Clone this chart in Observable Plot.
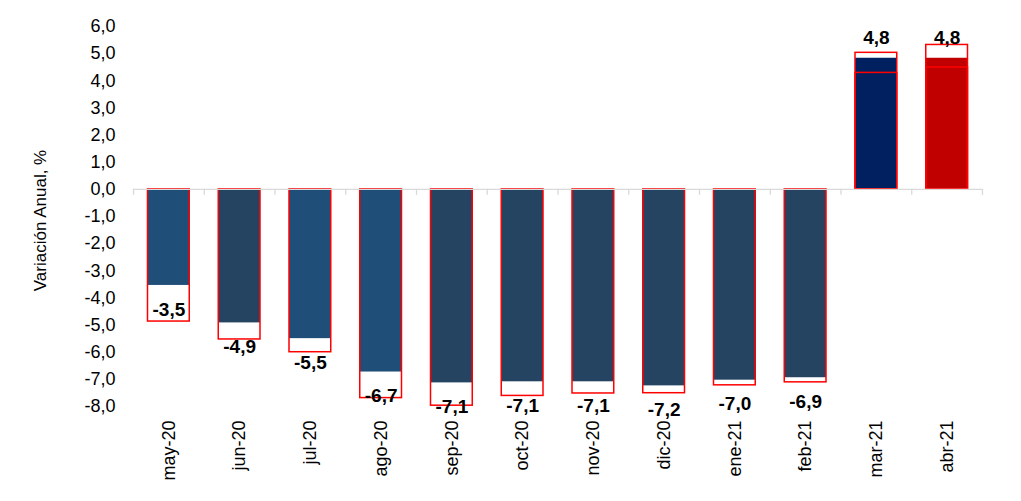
<!DOCTYPE html>
<html>
<head>
<meta charset="utf-8">
<script src="https://cdn.jsdelivr.net/npm/d3@7"></script>
<script src="https://cdn.jsdelivr.net/npm/@observablehq/plot@0.6"></script>
<style>
  body { margin: 0; background: #fff; }
  #chart { width: 1021px; height: 501px; }
</style>
</head>
<body>
<div id="chart"></div>
<script>
// ---- data ----
const months = ["may-20", "jun-20", "jul-20", "ago-20", "sep-20", "oct-20", "nov-20", "dic-20", "ene-21", "feb-21", "mar-21", "abr-21"];
const actual = [-3.54, -4.92, -5.50, -6.73, -7.13, -7.09, -7.09, -7.24, -7.03, -6.94, 4.83, 4.83];
const previous = [-4.87, -5.53, -6.00, -7.69, -7.97, -7.61, -7.52, -7.51, -7.22, -7.11, 5.03, 5.32];
const previous2 = [null, null, null, null, null, null, null, null, null, null, 4.29, 4.49];
const yTicks = [-8, -7, -6, -5, -4, -3, -2, -1, 0, 1, 2, 3, 4, 5, 6];
const yLabel = "Variación Anual, %";

// ---- styles ----
const barColors = ["#1F4E79", "#244461", "#1F4E79", "#1F4E79", "#244461", "#244461", "#244461", "#244461", "#244461", "#244461", "#002060", "#C00000"];

const fmt = d => d.toFixed(1).replace(".", ",").replace("-0,0", "0,0");
const data = months.map((m, i) => ({month: m, actual: actual[i], previous: previous[i], previous2: previous2[i], color: barColors[i]}));

const W = 1021, H = 501, ML = 133, MR = 39, MT = 26, MB = 95;
const halfStep = (W - ML - MR) / months.length / 2;
const tickLen = -6 / ((H - MT - MB) / 14);

const chart = Plot.plot({
  width: W, height: H,
  marginLeft: ML, marginRight: MR, marginTop: MT, marginBottom: MB,
  style: {fontFamily: "'Liberation Sans', Arial, sans-serif", fontSize: "18px", color: "#000", background: "#fff"},
  x: {domain: months, paddingInner: 0.41, paddingOuter: 0.205, align: 0.5, round: false},
  y: {domain: [-8, 6]},
  color: {type: "identity"},
  marks: [
    Plot.barY(data, {x: "month", y: "actual", fill: "color"}),
    Plot.barY(data, {x: "month", y: "previous", fill: "none", stroke: "#FF0000", strokeWidth: 1.5}),
    Plot.barY(data.filter(d => d.previous2 != null), {x: "month", y: "previous2", fill: "none", stroke: "#FF0000", strokeWidth: 1.5}),
    Plot.ruleY([0], {stroke: "#d9d9d9", strokeWidth: 1.3}),
    Plot.ruleX(months, {x: d => d, y1: 0, y2: tickLen, dx: -halfStep, stroke: "#d9d9d9", strokeWidth: 1.3}),
    Plot.ruleX([months[months.length - 1]], {x: d => d, y1: 0, y2: tickLen, dx: halfStep, stroke: "#d9d9d9", strokeWidth: 1.3}),
    Plot.text(data.filter(d => d.actual < 0), {x: "month", y: "actual", text: d => fmt(d.actual), dy: 24, lineAnchor: "middle", fontWeight: "bold", fontSize: 19, fill: "#000"}),
    Plot.text(data.filter(d => d.actual >= 0), {x: "month", y: "actual", text: d => fmt(d.actual), dy: -20, lineAnchor: "middle", fontWeight: "bold", fontSize: 19, fill: "#000"}),
    Plot.axisY({ticks: yTicks, tickSize: 0, tickPadding: 18, tickFormat: fmt, label: null, fontSize: 18}),
    Plot.axisX({tickRotate: -90, tickSize: 0, tickPadding: 14, label: null, fontSize: 18}),
    Plot.text([yLabel], {text: d => d, frameAnchor: "left", textAnchor: "middle", rotate: -90, dx: -93, dy: 4, fontSize: 17, fill: "#000"})
  ]
});
document.getElementById("chart").appendChild(chart);
</script>
</body>
</html>
